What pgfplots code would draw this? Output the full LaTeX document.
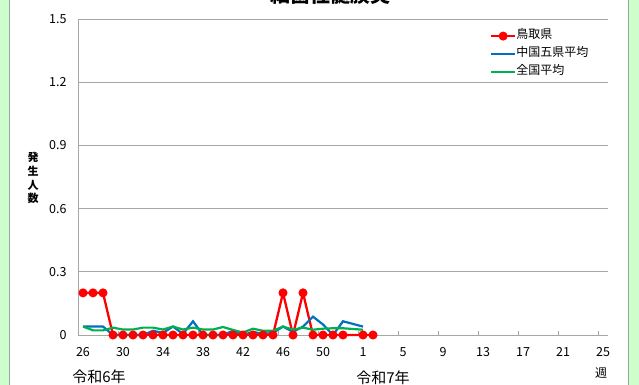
\documentclass[border=0pt]{standalone}
\usepackage{fontspec}
\setmainfont{Noto Sans CJK JP}
\usepackage{pgfplots}
\pgfplotsset{compat=1.18}
\definecolor{bggreen}{RGB}{204,255,204}
\definecolor{framegray}{RGB}{150,170,150}
\definecolor{gridgray}{RGB}{166,166,166}
\definecolor{myred}{RGB}{255,0,0}
\definecolor{myblue}{RGB}{0,112,192}
\definecolor{mygreen}{RGB}{0,176,80}
\pgfplotstableread{
x y
0 0.2
1 0.2
2 0.2
3 0
4 0
5 0
6 0
7 0
8 0
9 0
10 0
11 0
12 0
13 0
14 0
15 0
16 0
17 0
18 0
19 0
20 0.2
21 0
22 0.2
23 0
24 0
25 0
26 0
28 0
29 0
}\tottori
\pgfplotstableread{
x y
0 0.04
1 0.04
2 0.04
3 0
4 0
5 0
6 0
7 0.02
8 0.01
9 0.04
10 0.005
11 0.065
12 0
13 0
14 0
15 0.02
16 0
17 0.015
18 0.005
19 0.01
20 0.04
21 0.015
22 0.04
23 0.087
24 0.05
25 0
26 0.065
28 0.04
}\chugoku
\pgfplotstableread{
x y
0 0.04
1 0.022
2 0.022
3 0.035
4 0.026
5 0.026
6 0.035
7 0.035
8 0.026
9 0.04
10 0.026
11 0.035
12 0.026
13 0.026
14 0.038
15 0.024
16 0.012
17 0.03
18 0.02
19 0.02
20 0.04
21 0.025
22 0.035
23 0.025
24 0.03
25 0.032
26 0.032
28 0.025
}\zenkoku
\begin{document}
\begin{tikzpicture}
\useasboundingbox (0bp,0bp) rectangle (639bp,385bp);
\fill[bggreen] (0bp,0bp) rectangle (639bp,385bp);
\fill[white] (10bp,0bp) rectangle (628bp,385bp);
\draw[framegray, line width=1bp] (9.5bp,0bp) -- (9.5bp,385bp);
\draw[framegray, line width=1bp] (628.5bp,0bp) -- (628.5bp,385bp);
\node[font=\bfseries\fontsize{20bp}{22bp}\selectfont, anchor=base] at (330bp,382bp) {細菌性髄膜炎};
\node[font=\bfseries\fontsize{11bp}{13.7bp}\selectfont, align=center] at (33bp,207bp) {発\\生\\人\\数};
\node[font=\fontsize{15bp}{17bp}\selectfont] at (99bp,8bp) {令和6年};
\node[font=\fontsize{15bp}{17bp}\selectfont] at (383bp,7bp) {令和7年};
\node[font=\fontsize{12bp}{14bp}\selectfont] at (601bp,12bp) {週};
\begin{axis}[
  at={(78bp,50bp)}, anchor=south west,
  scale only axis, width=530bp, height=316bp,
  xmin=-0.5, xmax=52.5, ymin=0, ymax=1.5,
  axis lines*=left,
  axis line style={gridgray, line width=0.8bp},
  ymajorgrids, grid style={gridgray, line width=0.8bp},
  ytick={0,0.3,0.6,0.9,1.2,1.5},
  yticklabels={0,0.3,0.6,0.9,1.2,1.5},
  xtick={0,4,...,52},
  xticklabels={26,30,34,38,42,46,50,1,5,9,13,17,21,25},
  minor xtick={-0.5,3.5,...,51.5},
  major tick length=0pt,
  minor tick length=4bp,
  tick align=inside,
  minor x tick style={gridgray, line width=0.8bp},
  tick label style={font=\fontsize{12.5bp}{14bp}\selectfont},
  /pgf/number format/assume math mode=true,
  xticklabel style={yshift=-9bp},
  yticklabel style={xshift=-8bp},
  legend style={at={(0.777,0.975)}, anchor=north west, draw=none, fill=none,
    font=\fontsize{12bp}{14bp}\selectfont, row sep=0pt, inner sep=0pt,
    nodes={text height=11bp, text depth=7bp, inner sep=0pt, outer sep=0pt}},
  legend cell align=left,
  legend image code/.code={\draw[mark repeat=2,mark phase=2,#1] plot coordinates {(0bp,0bp) (12bp,0bp) (24bp,0bp)};},
  clip=false,
]
\addplot[forget plot, draw=myred, line width=2.3bp, mark=*, mark size=3.3bp, mark options={solid, fill=myred, draw=myred}] table[x=x,y=y] {\tottori};
\addplot[forget plot, draw=myblue, line width=2.2bp, no marks] table[x=x,y=y] {\chugoku};
\addplot[forget plot, draw=mygreen, line width=2.2bp, no marks] table[x=x,y=y] {\zenkoku};
\addlegendimage{draw=myred, line width=2.3bp, mark=*, mark size=3.3bp, mark options={solid, fill=myred, draw=myred}}
\addlegendentry{鳥取県}
\addlegendimage{draw=myblue, line width=2.2bp}
\addlegendentry{中国五県平均}
\addlegendimage{draw=mygreen, line width=2.2bp}
\addlegendentry{全国平均}
\end{axis}
\end{tikzpicture}
\end{document}
